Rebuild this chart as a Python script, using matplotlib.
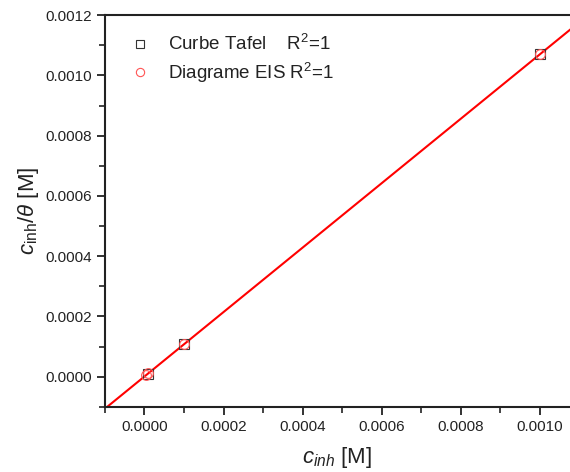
import numpy as np
import matplotlib
matplotlib.use("Agg")
import matplotlib.pyplot as plt
from matplotlib.ticker import MultipleLocator, FormatStrFormatter

plt.rcParams['font.family'] = ['Liberation Sans', 'DejaVu Sans']
plt.rcParams['mathtext.fontset'] = 'custom'
plt.rcParams['mathtext.rm'] = 'Liberation Sans'
plt.rcParams['mathtext.it'] = 'Liberation Sans:italic'

# Inhibitor concentration [M] and c/theta [M] (Langmuir isotherm)
c_tafel = [0.00001, 0.0001, 0.001]
y_tafel = [0.0000105, 0.000109, 0.00107]
c_eis = [0.000005, 0.00001, 0.0001, 0.001]
y_eis = [0.0000060, 0.0000110, 0.000108, 0.00107]

label_tafel = "Curbe Tafel    R$^2$=1"
label_eis = "Diagrame EIS R$^2$=1"

xlim = (-0.0001, 0.001076)
ylim = (-0.0001, 0.0012)

fig = plt.figure(figsize=(5.70, 4.72), dpi=100)
ax = fig.add_axes([0.184, 0.138, 0.816, 0.830])

ax.plot(c_tafel, y_tafel, linestyle='none', marker='s', markersize=6.5,
        markerfacecolor='none', markeredgecolor='#333333', markeredgewidth=0.8,
        label=label_tafel)
ax.plot(c_eis, y_eis, linestyle='none', marker='o', markersize=7,
        markerfacecolor='none', markeredgecolor='#ff5555', markeredgewidth=0.8,
        label=label_eis)

# Linear fit through both series
cx = np.array(c_tafel + c_eis)
cy = np.array(y_tafel + y_eis)
k, b = np.polyfit(cx, cy, 1)
xs = np.array(xlim)
ax.plot(xs, k * xs + b, color='#ff0000', linewidth=1.5, zorder=1)

ax.set_xlim(*xlim)
ax.set_ylim(*ylim)

ax.xaxis.set_major_locator(MultipleLocator(0.0002))
ax.xaxis.set_minor_locator(MultipleLocator(0.0001))
ax.yaxis.set_major_locator(MultipleLocator(0.0002))
ax.yaxis.set_minor_locator(MultipleLocator(0.0001))
ax.xaxis.set_major_formatter(FormatStrFormatter('%.4f'))
ax.yaxis.set_major_formatter(FormatStrFormatter('%.4f'))

ax.spines['right'].set_visible(False)
for s in ('left', 'bottom', 'top'):
    ax.spines[s].set_linewidth(1.5)
    ax.spines[s].set_color('#222222')

ax.tick_params(which='major', direction='out', length=6, width=1.3, labelsize=11,
               top=False, right=False, color='#222222', labelcolor='#222222')
ax.tick_params(which='minor', direction='out', length=4, width=1.2,
               top=False, right=False, color='#222222')

ax.set_xlabel(r'$c_{inh}$ [M]', fontsize=16, labelpad=8, color='#222222')
ax.set_ylabel(r'$c_{\mathrm{inh}}/\theta$ [M]', fontsize=16, labelpad=3, color='#222222')

leg = ax.legend(loc='upper left', bbox_to_anchor=(0.028, 0.985), frameon=False,
                fontsize=13.5, handletextpad=0.95, labelspacing=0.36,
                handlelength=1.0, borderaxespad=0.3, markerscale=0.85)
for t in leg.get_texts():
    t.set_color('#222222')

fig.savefig('out.png', dpi=100)
